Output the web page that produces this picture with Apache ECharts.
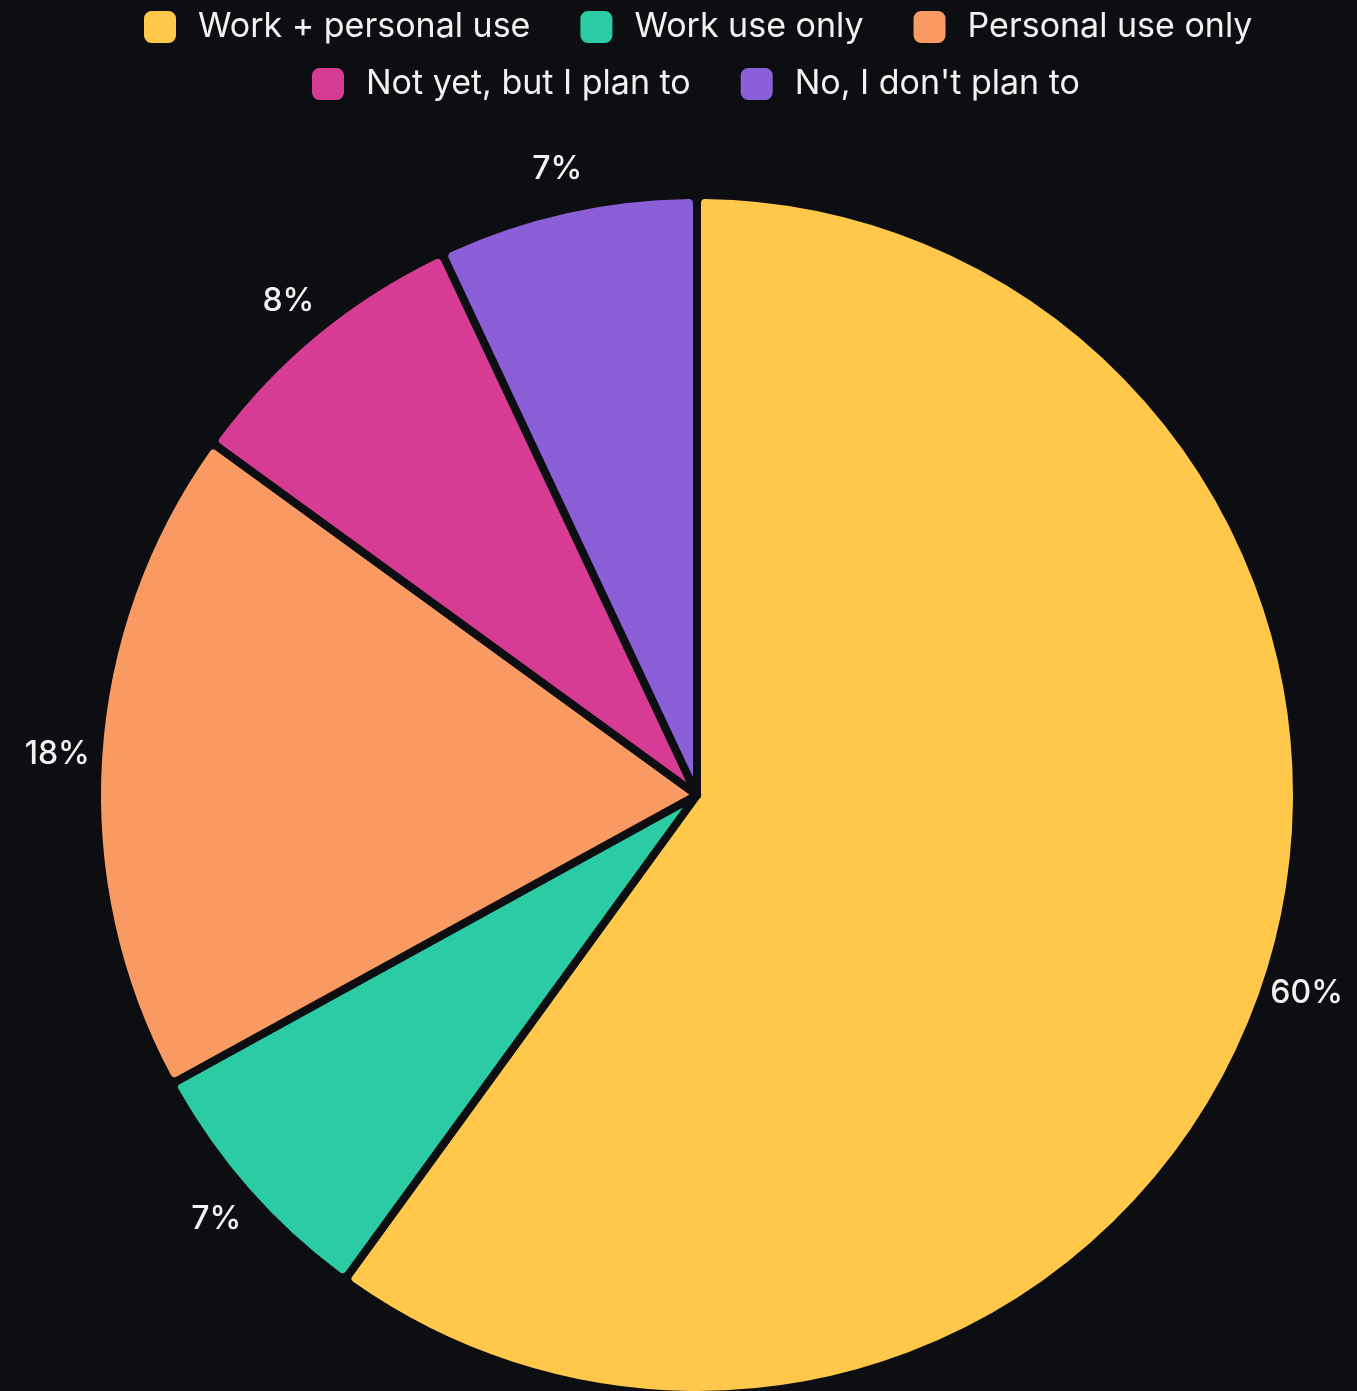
<!DOCTYPE html>
<html>
<head>
<meta charset="utf-8">
<script src="https://cdn.jsdelivr.net/npm/echarts@6/dist/echarts.min.js"></script>
<style>
  html, body { margin: 0; padding: 0; background: #0c0e11; }
  #main { width: 1357px; height: 1391px; }
</style>
</head>
<body>
<div id="main"></div>
<script>
var categories = ['Work + personal use', 'Work use only', 'Personal use only', 'Not yet, but I plan to', "No, I don't plan to"];
var shares = [60, 7, 18, 8, 7];
var colors = ['#ffc84b', '#2bcca3', '#f99a63', '#d73c95', '#8b5fd8'];

var chartDom = document.getElementById('main');
var myChart = echarts.init(chartDom);

var pieData = categories.map(function (name, i) {
    return { name: name, value: shares[i], itemStyle: { color: colors[i] } };
});

function legendRow(names, top, left) {
    return {
        data: names.map(function (name) {
            return { name: name, itemStyle: { color: colors[categories.indexOf(name)] } };
        }),
        top: top,
        left: left,
        padding: 0,
        icon: 'roundRect',
        itemWidth: 34,
        itemHeight: 34,
        itemGap: 48,
        textStyle: {
            color: '#f2f2f2',
            fontSize: 34,
            fontFamily: 'Inter',
            padding: [0, 0, 0, 16]
        }
    };
}

var option = {
    backgroundColor: '#0c0e11',
    legend: [
        legendRow(categories.slice(0, 3), 9, 142),
        legendRow(categories.slice(3), 66, 310)
    ],
    series: [
        {
            type: 'pie',
            center: [697, 795],
            radius: 600,
            startAngle: 90,
            clockwise: true,
            avoidLabelOverlap: false,
            data: pieData,
            itemStyle: {
                borderColor: '#0c0e11',
                borderWidth: 8,
                borderRadius: 8
            },
            label: { show: false },
            labelLine: { show: false },
            emphasis: { disabled: true }
        },
        {
            // transparent ring that only carries the percentage labels
            type: 'pie',
            center: [697, 795],
            radius: [612, 664],
            startAngle: 90,
            clockwise: true,
            silent: true,
            data: categories.map(function (name, i) {
                return { name: name, value: shares[i] };
            }),
            itemStyle: { color: 'transparent', borderWidth: 0 },
            label: {
                show: true,
                position: 'inside',
                formatter: '{c}%',
                color: '#f2f2f2',
                fontSize: 32,
                fontWeight: 500,
                fontFamily: 'Inter'
            },
            labelLine: { show: false },
            emphasis: { disabled: true }
        }
    ]
};

myChart.setOption(option);
</script>
</body>
</html>
